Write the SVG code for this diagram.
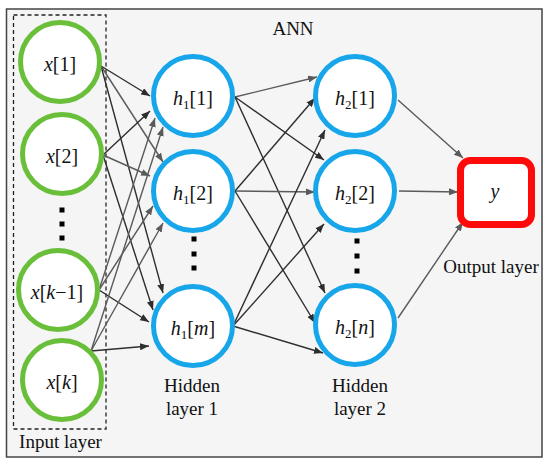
<svg xmlns="http://www.w3.org/2000/svg" width="550" height="466" viewBox="0 0 550 466">
<defs>
<marker id="ad" markerWidth="9" markerHeight="7" refX="9" refY="3.5" orient="auto" markerUnits="userSpaceOnUse"><path d="M0,0 L9,3.5 L0,7 Z" fill="#2e2e2e"/></marker>
<marker id="ag" markerWidth="9" markerHeight="7" refX="9" refY="3.5" orient="auto" markerUnits="userSpaceOnUse"><path d="M0,0 L9,3.5 L0,7 Z" fill="#5a5a5a"/></marker>
<style>
.in{fill:#ffffff;stroke:#6abf3a;stroke-width:5}
.hid{fill:#ffffff;stroke:#17a6ea;stroke-width:5}
.lbl{font-family:"Liberation Serif","Times New Roman",serif;font-size:20px;fill:#111;text-anchor:middle}
.cap{font-family:"Liberation Serif","Times New Roman",serif;font-size:19px;fill:#111;text-anchor:middle}
.it{font-style:italic}
.d{stroke:#2e2e2e;stroke-width:1.4;fill:none;marker-end:url(#ad)}
.g{stroke:#5a5a5a;stroke-width:1.4;fill:none;marker-end:url(#ag)}
.dot{fill:#000}
</style>
</defs>
<rect x="0" y="0" width="550" height="466" fill="#ffffff"/>
<rect x="6.5" y="9" width="535.5" height="448" fill="#f5f5f5" stroke="#444" stroke-width="1.5"/>
<rect x="13.5" y="15" width="92.5" height="414" fill="none" stroke="#222" stroke-width="1.3" stroke-dasharray="4,3"/>
<text class="cap" x="293" y="35">ANN</text>
<text class="cap" x="60.5" y="448">Input layer</text>
<text class="cap" x="192" y="392">Hidden</text>
<text class="cap" x="192" y="415">layer 1</text>
<text class="cap" x="360" y="392">Hidden</text>
<text class="cap" x="360" y="415">layer 2</text>
<text class="cap" x="491" y="273">Output layer</text>

<g id="connectors">
<line class="d" x1="101" y1="66" x2="150" y2="96"/>
<line class="g" x1="101" y1="66" x2="163" y2="162"/>
<line class="d" x1="101" y1="66" x2="163" y2="293"/>
<line class="d" x1="103" y1="155" x2="150" y2="111"/>
<line class="g" x1="103" y1="155" x2="150" y2="176"/>
<line class="d" x1="103" y1="155" x2="153" y2="310"/>
<line class="g" x1="99" y1="290" x2="155" y2="118"/>
<line class="g" x1="99" y1="290" x2="153" y2="206"/>
<line class="d" x1="99" y1="290" x2="149" y2="322"/>
<line class="g" x1="91" y1="351" x2="163" y2="127"/>
<line class="g" x1="91" y1="351" x2="163" y2="223"/>
<line class="d" x1="91" y1="351" x2="149" y2="346"/>
<line class="g" x1="235" y1="97" x2="317" y2="77"/>
<line class="d" x1="235" y1="97" x2="324" y2="160"/>
<line class="d" x1="235" y1="97" x2="325" y2="293"/>
<line class="d" x1="235" y1="191" x2="315" y2="98"/>
<line class="g" x1="235" y1="191" x2="315" y2="192"/>
<line class="d" x1="235" y1="191" x2="315" y2="323"/>
<line class="d" x1="233" y1="326" x2="325" y2="130"/>
<line class="d" x1="233" y1="326" x2="324" y2="224"/>
<line class="d" x1="233" y1="326" x2="323" y2="353"/>
<line class="g" x1="398" y1="100" x2="463" y2="158"/>
<line class="g" x1="399" y1="191" x2="458" y2="192"/>
<line class="g" x1="398" y1="318" x2="463" y2="222"/>
</g>

<g id="x1"><circle class="in" cx="60" cy="62" r="39.5"/><text class="lbl" x="60" y="71"><tspan class="it">x</tspan>[1]</text></g>
<g id="x2"><circle class="in" cx="62" cy="154" r="39.5"/><text class="lbl" x="62" y="163"><tspan class="it">x</tspan>[2]</text></g>
<g id="input-dots"><rect class="dot" x="59.5" y="207.5" width="5" height="5"/><rect class="dot" x="59.5" y="221.5" width="5" height="5"/><rect class="dot" x="59.5" y="235.5" width="5" height="5"/></g>
<g id="xk1"><circle class="in" cx="58" cy="290" r="39.5"/><text class="lbl" x="57" y="299"><tspan class="it">x</tspan>[<tspan class="it">k</tspan>−1]</text></g>
<g id="xk"><circle class="in" cx="62" cy="380" r="39.5"/><text class="lbl" x="62" y="389"><tspan class="it">x</tspan>[<tspan class="it">k</tspan>]</text></g>

<g id="h1_1"><circle class="hid" cx="193" cy="96" r="39.5"/><text class="lbl" x="193" y="105"><tspan class="it">h</tspan><tspan font-size="13" dy="4">1</tspan><tspan dy="-4">[1]</tspan></text></g>
<g id="h1_2"><circle class="hid" cx="193" cy="191" r="39.5"/><text class="lbl" x="193" y="200"><tspan class="it">h</tspan><tspan font-size="13" dy="4">1</tspan><tspan dy="-4">[2]</tspan></text></g>
<g id="h1-dots"><rect class="dot" x="191.5" y="236.5" width="5" height="5"/><rect class="dot" x="191.5" y="251.5" width="5" height="5"/><rect class="dot" x="191.5" y="265.5" width="5" height="5"/></g>
<g id="h1_m"><circle class="hid" cx="193" cy="326" r="39.5"/><text class="lbl" x="193" y="335"><tspan class="it">h</tspan><tspan font-size="13" dy="4">1</tspan><tspan dy="-4">[</tspan><tspan class="it">m</tspan>]</text></g>

<g id="h2_1"><circle class="hid" cx="355" cy="96" r="39.5"/><text class="lbl" x="355" y="105"><tspan class="it">h</tspan><tspan font-size="13" dy="4">2</tspan><tspan dy="-4">[1]</tspan></text></g>
<g id="h2_2"><circle class="hid" cx="355" cy="191" r="39.5"/><text class="lbl" x="355" y="200"><tspan class="it">h</tspan><tspan font-size="13" dy="4">2</tspan><tspan dy="-4">[2]</tspan></text></g>
<g id="h2-dots"><rect class="dot" x="354.5" y="238.5" width="5" height="5"/><rect class="dot" x="354.5" y="253.5" width="5" height="5"/><rect class="dot" x="354.5" y="268.5" width="5" height="5"/></g>
<g id="h2_n"><circle class="hid" cx="355" cy="325" r="39.5"/><text class="lbl" x="355" y="334"><tspan class="it">h</tspan><tspan font-size="13" dy="4">2</tspan><tspan dy="-4">[</tspan><tspan class="it">n</tspan>]</text></g>

<g id="y"><rect x="460.5" y="160.5" width="71" height="64" rx="10" ry="10" fill="#ffffff" stroke="#ff0a0a" stroke-width="7"/><text class="lbl it" x="495" y="198">y</text></g>
</svg>
